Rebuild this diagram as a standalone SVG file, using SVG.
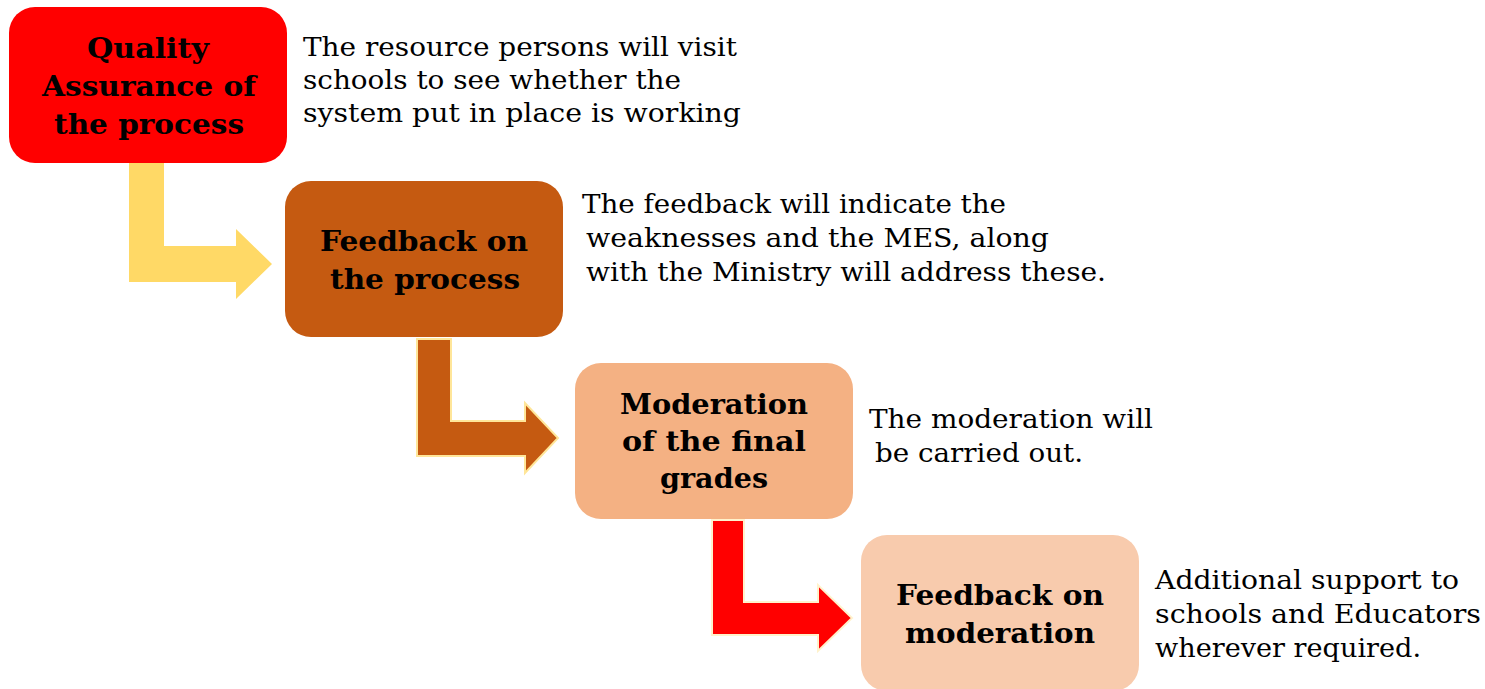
<svg xmlns="http://www.w3.org/2000/svg" width="1485" height="689" viewBox="0 0 1485 689">
  <style>
    .title { font-family: "DejaVu Serif", "Liberation Serif", serif; font-weight: bold; font-size: 27px; fill: #000; text-anchor: middle; }
    .desc { font-family: "DejaVu Serif", "Liberation Serif", serif; font-size: 26px; fill: #000; }
    .box { rx: 26px; ry: 26px; }
  </style>
  <rect width="1485" height="689" fill="#ffffff"/>

  <!-- connectors: bent block arrows between steps -->
  <g id="connectors">
    <polygon points="129,163 164,163 164,246 236,246 236,229 272,264 236,299 236,282 129,282" fill="#FFD966"/>
    <polygon points="417,339 451,339 451,421 525,421 525,403 558,438 525,473 525,456 417,456" fill="#C55A11" stroke="#FFE699" stroke-width="2"/>
    <polygon points="712,520 744,520 744,602 818,602 818,585 852,618 818,651 818,635 712,635" fill="#FF0000" stroke="#FFF2CC" stroke-width="2"/>
  </g>

  <g id="step-quality-assurance">
    <rect class="box" x="9" y="7" width="278" height="156" fill="#FF0000"/>
    <text class="title" x="148" y="58" textLength="122" lengthAdjust="spacingAndGlyphs">Quality</text>
    <text class="title" x="149" y="96" textLength="214" lengthAdjust="spacingAndGlyphs">Assurance of</text>
    <text class="title" x="149" y="134" textLength="190" lengthAdjust="spacingAndGlyphs">the process</text>
  </g>
  <g id="desc-quality-assurance">
    <text class="desc" x="303" y="56" textLength="434" lengthAdjust="spacingAndGlyphs">The resource persons will visit</text>
    <text class="desc" x="303" y="89" textLength="378" lengthAdjust="spacingAndGlyphs">schools to see whether the</text>
    <text class="desc" x="303" y="122" textLength="438" lengthAdjust="spacingAndGlyphs">system put in place is working</text>
  </g>

  <g id="step-feedback-process">
    <rect class="box" x="285" y="181" width="278" height="156" fill="#C55A11"/>
    <text class="title" x="424" y="251" textLength="208" lengthAdjust="spacingAndGlyphs">Feedback on</text>
    <text class="title" x="425" y="289" textLength="190" lengthAdjust="spacingAndGlyphs">the process</text>
  </g>
  <g id="desc-feedback-process">
    <text class="desc" x="582" y="213" textLength="424" lengthAdjust="spacingAndGlyphs">The feedback will indicate the</text>
    <text class="desc" x="586" y="247" textLength="463" lengthAdjust="spacingAndGlyphs">weaknesses and the MES, along</text>
    <text class="desc" x="586" y="281" textLength="520" lengthAdjust="spacingAndGlyphs">with the Ministry will address these.</text>
  </g>

  <g id="step-moderation">
    <rect class="box" x="575" y="363" width="278" height="156" fill="#F4B183"/>
    <text class="title" x="714" y="414" textLength="188" lengthAdjust="spacingAndGlyphs">Moderation</text>
    <text class="title" x="714" y="451" textLength="184" lengthAdjust="spacingAndGlyphs">of the final</text>
    <text class="title" x="714" y="488" textLength="108" lengthAdjust="spacingAndGlyphs">grades</text>
  </g>
  <g id="desc-moderation">
    <text class="desc" x="869" y="428" textLength="284" lengthAdjust="spacingAndGlyphs">The moderation will</text>
    <text class="desc" x="875" y="462" textLength="208" lengthAdjust="spacingAndGlyphs">be carried out.</text>
  </g>

  <g id="step-feedback-moderation">
    <rect class="box" x="861" y="535" width="278" height="156" fill="#F8CBAD"/>
    <text class="title" x="1000" y="605" textLength="208" lengthAdjust="spacingAndGlyphs">Feedback on</text>
    <text class="title" x="1000" y="643" textLength="190" lengthAdjust="spacingAndGlyphs">moderation</text>
  </g>
  <g id="desc-feedback-moderation">
    <text class="desc" x="1155" y="589" textLength="304" lengthAdjust="spacingAndGlyphs">Additional support to</text>
    <text class="desc" x="1155" y="623" textLength="326" lengthAdjust="spacingAndGlyphs">schools and Educators</text>
    <text class="desc" x="1155" y="657" textLength="266" lengthAdjust="spacingAndGlyphs">wherever required.</text>
  </g>
</svg>
